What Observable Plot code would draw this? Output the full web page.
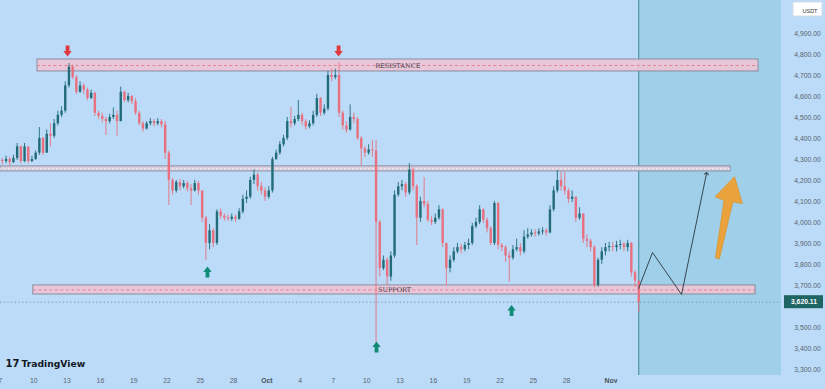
<!DOCTYPE html>
<html><head><meta charset="utf-8">
<script src="https://cdn.jsdelivr.net/npm/d3@7"></script>
<script src="https://cdn.jsdelivr.net/npm/@observablehq/plot@0.6"></script>
<style>
html,body{margin:0;padding:0;background:#bbdbf8;}
#chart{width:825px;height:389px;overflow:hidden}
</style></head><body><div id="chart"></div>
<script>
// ---- data (ETH/USDT, 8h candles from 7 Sep 2025) ----
const startDate = "2025-09-07T00:00:00Z";
const candleHours = 8;
const firstOpen = 4295;
const closes = [
4290,4300,4285,4305,4360,4290,4360,4290,4300,4330,
4400,4330,4420,4410,4470,4510,4530,4650,4740,4690,
4620,4650,4630,4590,4615,4520,4505,4490,4480,4500,
4510,4480,4620,4580,4600,4575,4520,4470,4445,4470,
4480,4470,4480,4465,4330,4200,4150,4190,4170,4185,
4160,4150,4185,4150,4020,3900,3960,3900,4050,4030,
4020,4015,4025,4015,4050,4110,4120,4200,4225,4170,
4150,4120,4150,4300,4330,4370,4400,4480,4470,4490,
4510,4480,4455,4470,4510,4590,4520,4540,4700,4690,
4700,4520,4460,4440,4500,4490,4400,4350,4330,4345,
4340,4000,3780,3820,3740,3840,4130,4170,4180,4140,
4250,4170,4020,4100,4085,4010,4000,4020,4060,3900,
3780,3820,3860,3880,3870,3890,3900,3980,4000,4060,
4010,3970,3900,4090,3890,3880,3840,3830,3870,3880,
3860,3930,3940,3950,3945,3955,3960,3950,4060,4150,
4200,4170,4150,4110,4120,4020,4040,3920,3910,3880,
3700,3820,3860,3880,3885,3880,3890,3895,3880,3900,
3760,3720,3620.11];
const highs = [
4305,4315,4310,4320,4376,4365,4376,4350,4315,4340,
4452,4405,4440,4470,4490,4530,4550,4670,4757,4750,
4700,4670,4660,4640,4630,4620,4530,4520,4500,4515,
4545,4530,4645,4625,4615,4605,4590,4530,4480,4480,
4495,4490,4495,4490,4480,4340,4210,4200,4205,4200,
4195,4180,4200,4195,4150,4030,3990,3970,4060,4065,
4040,4035,4040,4035,4065,4130,4150,4215,4250,4235,
4190,4165,4170,4310,4345,4385,4415,4500,4548,4505,
4581,4520,4490,4485,4530,4610,4595,4560,4720,4730,
4730,4760,4530,4480,4560,4520,4500,4410,4360,4370,
4390,4390,4010,3840,3830,3860,4150,4190,4200,4190,
4280,4260,4180,4120,4214,4100,4030,4040,4080,4065,
3900,3840,3880,3900,3895,3905,3920,3995,4020,4080,
4065,4020,3980,4100,4095,3900,3890,3860,3890,3920,
3900,3960,3970,3965,3965,3970,3975,3970,4080,4170,
4248,4240,4240,4160,4150,4120,4070,4040,3940,3920,
3890,3830,3880,3900,3905,3905,3910,3915,3905,3915,
3905,3770,3720];
const lows = [
4275,4280,4270,4280,4295,4280,4285,4280,4285,4295,
4320,4320,4330,4360,4400,4460,4500,4520,4640,4680,
4610,4615,4610,4580,4585,4505,4490,4475,4414,4470,
4490,4410,4480,4570,4570,4560,4510,4460,4430,4440,
4460,4455,4460,4450,4300,4081,4130,4140,4150,4160,
4145,4081,4145,4130,4000,3819,3870,3880,3890,4015,
4005,4005,4005,4000,4010,4040,4090,4110,4180,4150,
4130,4100,4110,4140,4295,4320,4360,4390,4450,4460,
4480,4460,4440,4445,4460,4500,4505,4510,4530,4670,
4680,4500,4440,4425,4435,4470,4390,4270,4310,4320,
4310,3381,3740,3770,3700,3720,3830,4120,4150,4120,
4130,4150,3890,4000,4070,4000,3985,3990,4010,3880,
3700,3760,3810,3850,3850,3860,3870,3890,3970,3990,
3995,3950,3890,3890,3870,3860,3810,3714,3820,3860,
3840,3850,3920,3930,3930,3935,3940,3935,3945,4050,
4140,4150,4130,4090,4095,4000,4010,3900,3880,3860,
3688,3690,3800,3840,3860,3860,3860,3870,3860,3860,
3740,3690,3571];

// price axis ticks (3,600 hidden behind the last-price label)
const priceTicks = [3300,3400,3500,3700,3800,3900,4000,4100,4200,4300,4400,4500,4600,4700,4800,4900];
// time axis ticks
const dateTicks = ["2025-09-07","2025-09-10","2025-09-13","2025-09-16","2025-09-19","2025-09-22","2025-09-25","2025-09-28","2025-10-04","2025-10-07","2025-10-10","2025-10-13","2025-10-16","2025-10-19","2025-10-22","2025-10-25","2025-10-28"];
const dateTickLabels = ["7","10","13","16","19","22","25","28","4","7","10","13","16","19","22","25","28"];
const monthTicks = ["2025-10-01","2025-11-01"];
const monthTickLabels = ["Oct","Nov"];

// horizontal zones
const bandNames = ["RESISTANCE","MID","SUPPORT"];
const bandStart = ["2025-09-10T08:00Z","2025-09-07T00:00Z","2025-09-09T23:00Z"];
const bandEnd = ["2025-11-14T07:00Z","2025-11-11T18:30Z","2025-11-14T00:30Z"];
const bandLow = [4719,4243,3657];
const bandHigh = [4776,4267,3700];
const bandLabelDate = ["2025-10-12T19:00Z",null,"2025-10-12T12:00Z"];

// marker arrows
const downArrowDates = ["2025-09-13T01:00Z","2025-10-07T11:00Z"];
const downArrowPrices = [4817,4817];
const upArrowDates = ["2025-09-25T15:30Z","2025-10-10T21:00Z","2025-10-23T01:00Z"];
const upArrowPrices = [3764,3407,3581];

// projected path
const pathDates = ["2025-11-03T11:30Z","2025-11-04T17:45Z","2025-11-07T08:30Z","2025-11-09T14:30Z"];
const pathPrices = [3685,3857,3657,4233];

// big orange arrow outline
const orangeDates = ["2025-11-10T10:00Z","2025-11-11T04:30Z","2025-11-10T09:00Z","2025-11-12T03:00Z","2025-11-12T20:00Z","2025-11-11T23:30Z","2025-11-10T18:30Z"];
const orangePrices = [3833,4105,4122,4218,4090,4098,3828];

// ---- build ----
const W = 825, H = 389, mR = 44, mB = 14;
const plotW = W - mR, plotH = H - mB;
const yDomain = [3271, 5057];
const t0 = Date.parse(startDate);
const day = 864e5;
const xEnd = new Date(t0 + 70.36 * day);
const msPerPx = (xEnd - t0) / plotW;
const unitsPerPx = (yDomain[1] - yDomain[0]) / plotH;
const H8 = candleHours * 3600e3;

const candles = closes.map((c, i) => ({
  t: new Date(t0 + i * H8 + H8 / 2),
  open: i ? closes[i - 1] : firstOpen,
  close: c, high: highs[i], low: lows[i]
}));
const last = candles[candles.length - 1];
const lastPrice = last.close;
const UP = "#226c78", DOWN = "#e8707f";
const col = d => d.close >= d.open ? UP : DOWN;

const bands = bandNames.map((n, i) => ({name: n, x1: new Date(bandStart[i]), x2: new Date(bandEnd[i]), y1: bandLow[i], y2: bandHigh[i], mid: (bandLow[i] + bandHigh[i]) / 2, lx: bandLabelDate[i] ? new Date(bandLabelDate[i]) : null}));
const keyBands = bands.filter(b => b.name !== "MID");
const midBands = bands.filter(b => b.name === "MID");
const downArrows = downArrowDates.map((d, i) => ({x: new Date(d), y: downArrowPrices[i]}));
const upArrows = upArrowDates.map((d, i) => ({x: new Date(d), y: upArrowPrices[i]}));
const path = pathDates.map((d, i) => ({x: new Date(d), y: pathPrices[i]}));
const orange = orangeDates.map((d, i) => ({x: new Date(d), y: orangePrices[i]}));

const blockArrow = {
  draw(ctx, l) {
    const hw = 4.2, sw = 1.9, hl = 5.5;
    ctx.moveTo(0, -l);
    ctx.lineTo(hw, -l + hl);
    ctx.lineTo(sw, -l + hl);
    ctx.lineTo(sw, 0);
    ctx.lineTo(-sw, 0);
    ctx.lineTo(-sw, -l + hl);
    ctx.lineTo(-hw, -l + hl);
    ctx.closePath();
  }
};

const fmt = d3.format(",.2f");
const font = "Liberation Sans, Arial, sans-serif";

const chart = Plot.plot({
  width: W, height: H,
  marginTop: 0, marginBottom: mB, marginLeft: 0, marginRight: mR,
  x: {type: "utc", domain: [new Date(t0), xEnd], axis: null},
  y: {domain: yDomain, axis: null},
  style: {background: "#bbdbf8", fontFamily: font, overflow: "visible"},
  marks: [
    // projection zone
    Plot.rect([last], {x1: "t", x2: () => xEnd, fill: "#9fcfe9"}),
    Plot.ruleX([last], {x: "t", stroke: "#3f8a98", strokeWidth: 1}),
    // mid zone
    Plot.rect(midBands, {x1: "x1", x2: "x2", y1: "y1", y2: "y2", fill: "#d9cfe0", stroke: "#8d8f9e", strokeWidth: 1}),
    Plot.ruleY(midBands, {y: "mid", x1: "x1", x2: "x2", stroke: "#f4f0f6", strokeDasharray: "2,2", strokeWidth: 1}),
    // key zones
    Plot.rect(keyBands, {x1: "x1", x2: "x2", y1: "y1", y2: "y2", fill: "#eec4d6", fillOpacity: 0.9, stroke: "#8b8c9b", strokeWidth: 1}),
    Plot.ruleY(keyBands, {y: "mid", x1: "x1", x2: "x2", stroke: "#e4798b", strokeDasharray: "3,2.5", strokeWidth: 0.9}),
    // last price line
    Plot.ruleY([lastPrice], {stroke: "#7d8f9c", strokeDasharray: "1.2,2.5", strokeWidth: 1}),
    // candles
    Plot.ruleX(candles, {x: "t", y1: "low", y2: "high", stroke: col, strokeWidth: 0.9}),
    Plot.ruleX(candles, {x: "t", y1: "open", y2: "close", stroke: col, strokeWidth: 2.4}),
    // zone labels
    Plot.text(keyBands.filter(b => b.lx), {x: "lx", y: "mid", text: "name", fontSize: 6.5, fill: "#3e3e48", fontFamily: "DejaVu Serif, serif"}),
    // projected path
    Plot.line(path, {x: "x", y: "y", stroke: "#36474f", strokeWidth: 1, markerEnd: "arrow"}),
    // orange arrow
    Plot.line(orange, {x: "x", y: "y", curve: "linear-closed", fill: "#e9a23c", stroke: "#dc9530", strokeWidth: 0.8}),
    // marker arrows
    Plot.vector(downArrows, {x: "x", y: "y", length: 11, rotate: 180, shape: blockArrow, fill: "#e2383f", stroke: "none"}),
    Plot.vector(upArrows, {x: "x", y: "y", length: 11, rotate: 0, shape: blockArrow, fill: "#0f8b78", stroke: "none"}),
    // price axis
    Plot.text(priceTicks, {y: d => d, text: d => fmt(d), frameAnchor: "right", dx: 26, textAnchor: "middle", fontSize: 6.8, fill: "#5a6470"}),
    // last price label
    Plot.rect([lastPrice], {x1: () => new Date(+xEnd + 3 * msPerPx), x2: () => new Date(+xEnd + 42 * msPerPx), y1: d => d - 6.5 * unitsPerPx, y2: d => d + 6.5 * unitsPerPx, fill: "#1d6462"}),
    Plot.text([lastPrice], {y: d => d, text: d => fmt(d), frameAnchor: "right", dx: 22.5, textAnchor: "middle", fontSize: 6.8, fontWeight: "bold", fill: "white"}),
    // USDT box
    Plot.rect(["USDT"], {x1: () => new Date(+xEnd + 12 * msPerPx), x2: () => new Date(+xEnd + 41 * msPerPx), y1: () => yDomain[1] - 16 * unitsPerPx, y2: () => yDomain[1] - 2 * unitsPerPx, fill: "white", stroke: "#d6dde6"}),
    Plot.text(["USDT"], {frameAnchor: "top-right", dx: 21, dy: 9, textAnchor: "start", text: d => d, fontSize: 5.5, fill: "#333"}),
    // time axis
    Plot.text(dateTicks, {x: d => new Date(d + "T00:00Z"), text: (d, i) => dateTickLabels[i], frameAnchor: "bottom", dy: 7, fontSize: 6.8, fill: "#5a6470"}),
    Plot.text(monthTicks, {x: d => new Date(d + "T00:00Z"), text: (d, i) => monthTickLabels[i], frameAnchor: "bottom", dy: 7, fontSize: 6.8, fontWeight: "bold", fill: "#4a5460"}),
    // logo
    Plot.text(["17"], {frameAnchor: "bottom-left", dx: 5, dy: -9, textAnchor: "start", text: d => d, fontSize: 10, fontWeight: 900, fill: "#131722", fontFamily: "DejaVu Sans, sans-serif", letterSpacing: "-1px"}),
    Plot.text(["TradingView"], {frameAnchor: "bottom-left", dx: 21, dy: -9, textAnchor: "start", text: d => d, fontSize: 9.2, fontWeight: "bold", fill: "#131722", fontFamily: "DejaVu Sans, sans-serif"})
  ]
});
document.getElementById("chart").appendChild(chart);
</script>
</body></html>
